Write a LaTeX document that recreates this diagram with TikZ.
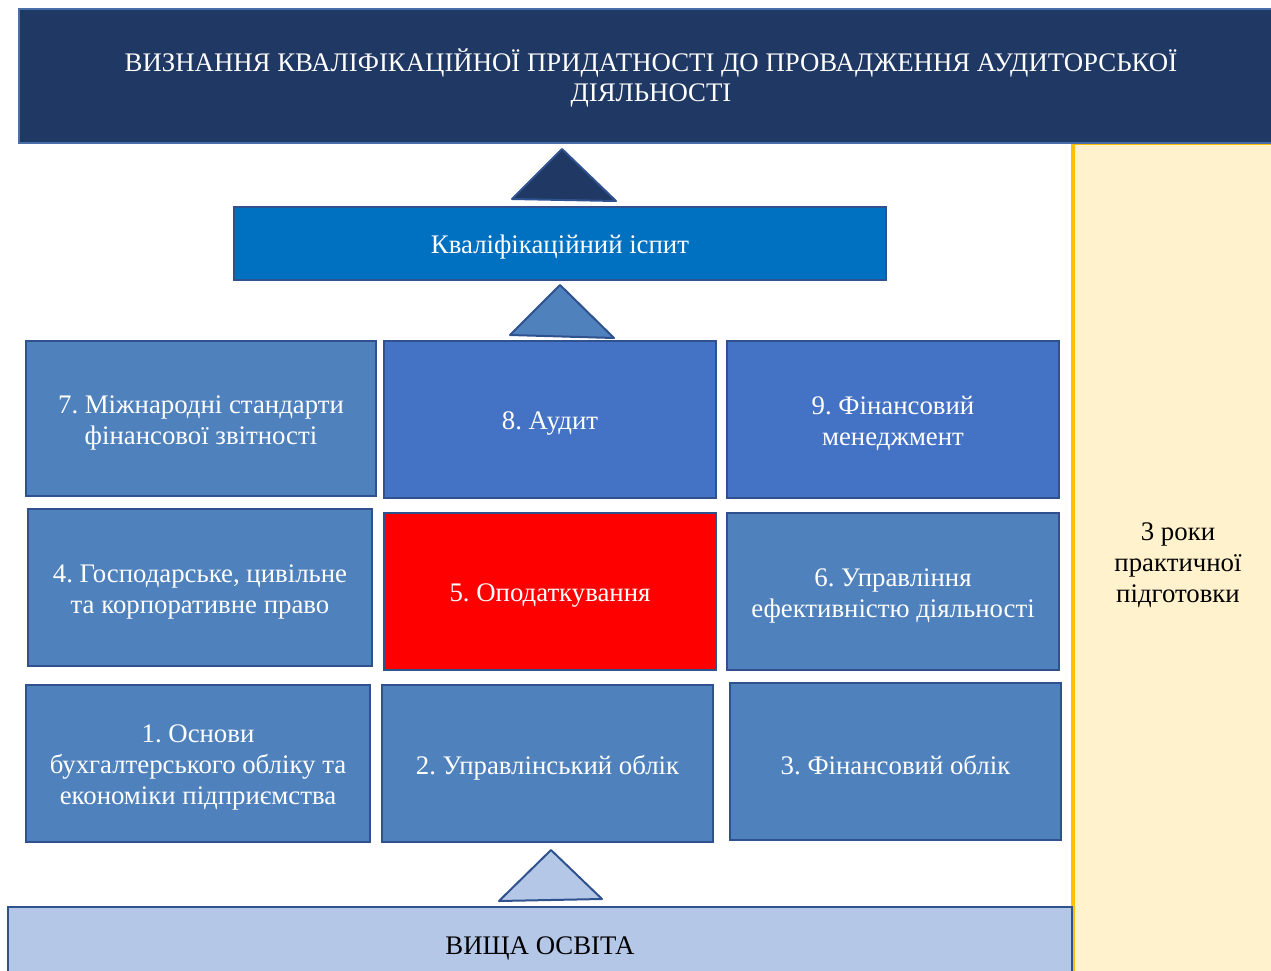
\documentclass[tikz,border=0pt]{standalone}
\usepackage{fontspec}
\setmainfont{Liberation Serif}
\frenchspacing
\definecolor{navy}{HTML}{203864}
\definecolor{exam}{HTML}{0070C0}
\definecolor{midblue}{HTML}{4F81BD}
\definecolor{audblue}{HTML}{4472C4}
\definecolor{lightblue}{HTML}{B4C7E7}
\definecolor{edge}{HTML}{2F528F}
\definecolor{topedge}{HTML}{4A6FA8}
\definecolor{paleyellow}{HTML}{FFF2CC}
\definecolor{gold}{HTML}{FFC000}
\tikzset{
  box/.style={draw=edge, line width=1.6pt, rectangle, inner sep=0pt},
  txt/.style={text=white, align=center, inner sep=0pt, yshift=-3pt,
    font=\fontsize{20.1}{23.25}\selectfont},
  dtxt/.style={txt, text=black},
  tri/.style={draw=edge, line width=1.5pt, line join=round}
}
\begin{document}
\begin{tikzpicture}[x=0.75pt,y=-0.75pt]
\useasboundingbox (0,0) rectangle (1271,971);
% side panel
\node[draw=gold, fill=paleyellow, line width=2.6pt, rectangle, inner sep=0pt,
  minimum width=157.5pt, minimum height=627.75pt,
  label={[dtxt]center:{3 роки\\практичної\\підготовки}}] (years) at (1178,561.5) {};
% top banner
\node[box, draw=topedge, fill=navy, minimum width=948pt, minimum height=100.5pt,
  label={[txt, yshift=1.5pt, font=\fontsize{20.1}{22.5}\selectfont]center:{ВИЗНАННЯ КВАЛІФІКАЦІЙНОЇ ПРИДАТНОСТІ ДО ПРОВАДЖЕННЯ АУДИТОРСЬКОЇ\\ДІЯЛЬНОСТІ}}]
  (title) at (651,76) {};
% triangle 1
\filldraw[tri, fill=navy] (562,149) -- (616,201) -- (512,199) -- cycle;
% exam
\node[box, fill=exam, minimum width=489pt, minimum height=54.75pt,
  label={[txt]center:{Кваліфікаційний іспит}}] (ex) at (560,243.5) {};
% triangle 2
\filldraw[tri, fill=midblue] (560,285) -- (614,338) -- (510,335) -- cycle;
% row 1
\node[box, fill=midblue, minimum width=262.5pt, minimum height=116.25pt,
  label={[txt]center:{7. Міжнародні стандарти\\фінансової звітності}}] (b7) at (201,418.5) {};
\node[box, fill=audblue, minimum width=249pt, minimum height=117.75pt,
  label={[txt]center:{8. Аудит}}] (b8) at (550,419.5) {};
\node[box, fill=audblue, minimum width=249pt, minimum height=117.75pt,
  label={[txt]center:{9. Фінансовий\\менеджмент}}] (b9) at (893,419.5) {};
% row 2
\node[box, fill=midblue, minimum width=258pt, minimum height=117.75pt,
  label={[txt]center:{4. Господарське, цивільне\\та корпоративне право}}] (b4) at (200,587.5) {};
\node[box, fill=red, minimum width=249pt, minimum height=117.75pt,
  label={[txt]center:{5. Оподаткування}}] (b5) at (550,591.5) {};
\node[box, fill=midblue, minimum width=249pt, minimum height=117.75pt,
  label={[txt]center:{6. Управління\\ефективністю діяльності}}] (b6) at (893,591.5) {};
% row 3
\node[box, fill=midblue, minimum width=258pt, minimum height=117.75pt,
  label={[txt]center:{1. Основи\\бухгалтерського обліку та\\економіки підприємства}}] (b1) at (198,763.5) {};
\node[box, fill=midblue, minimum width=248.25pt, minimum height=117.75pt,
  label={[txt]center:{2. Управлінський облік}}] (b2) at (547.5,763.5) {};
\node[box, fill=midblue, minimum width=248.25pt, minimum height=117.75pt,
  label={[txt]center:{3. Фінансовий облік}}] (b3) at (895.5,761.5) {};
% triangle 3
\filldraw[tri, fill=lightblue] (551,850) -- (602,899) -- (499,901) -- cycle;
% bottom
\node[box, fill=lightblue, minimum width=798pt, minimum height=55.5pt,
  label={[dtxt]center:{ВИЩА ОСВІТА}}] (edu) at (540,944) {};
\end{tikzpicture}
\end{document}
